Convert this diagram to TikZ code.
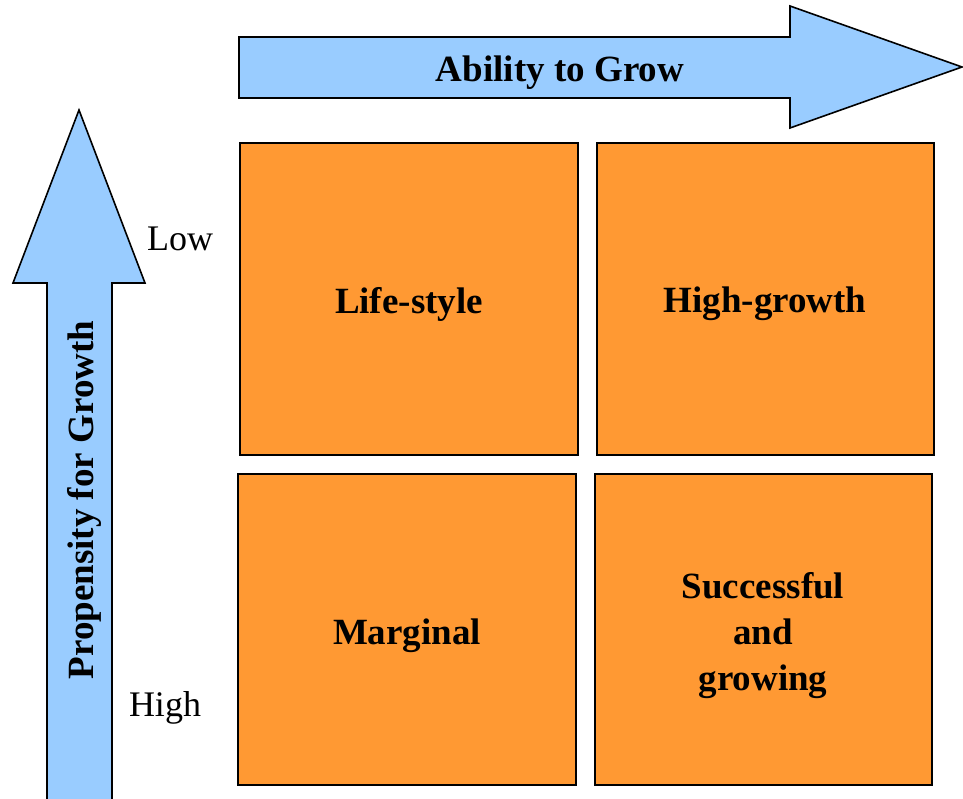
\documentclass[tikz,border=0pt]{standalone}
\usepackage{fontspec}
\setmainfont{Liberation Serif}
\definecolor{arrowblue}{HTML}{99CCFF}
\definecolor{boxorange}{HTML}{FF9933}
\begin{document}
\begin{tikzpicture}[x=1pt,y=-1pt,
  arrowshape/.style={draw=black,fill=arrowblue,line width=1.6pt,line join=miter},
  quad/.style={draw=black,fill=boxorange,line width=1.6pt},
  quadtext/.style={font=\fontsize{37}{46}\selectfont\bfseries,align=center},
  axislabel/.style={font=\fontsize{37}{46}\selectfont\bfseries},
  levellabel/.style={font=\fontsize{36}{44}\selectfont}]
\useasboundingbox (0,0) rectangle (963,799);
% horizontal arrow
\draw[arrowshape] (239,37) -- (790,37) -- (790,6) -- (962,67) -- (790,128) -- (790,98) -- (239,98) -- cycle;
\node[axislabel] (ability) at (560,73) {Ability to Grow};
% vertical arrow
\draw[arrowshape] (47,805) -- (47,283) -- (13,283) -- (79,110) -- (145,283) -- (112,283) -- (112,805);
\node[axislabel,rotate=90] (propensity) at (84,500) {Propensity for Growth};
% level labels
\node[levellabel] (low) at (180,239) {Low};
\node[levellabel] (high) at (165,708) {High};
% quadrants
\draw[quad] (240,143) rectangle (578,455);
\node[quadtext] (lifestyle) at (409,304) {Life-style};
\draw[quad] (597,143) rectangle (934,455);
\node[quadtext] (highgrowth) at (765,304) {High-growth};
\draw[quad] (238,474) rectangle (576,785);
\node[quadtext] (marginal) at (407,636) {Marginal};
\draw[quad] (595,474) rectangle (932,785);
\node[quadtext] (successful) at (763,636) {Successful\\and\\growing};
\end{tikzpicture}
\end{document}
